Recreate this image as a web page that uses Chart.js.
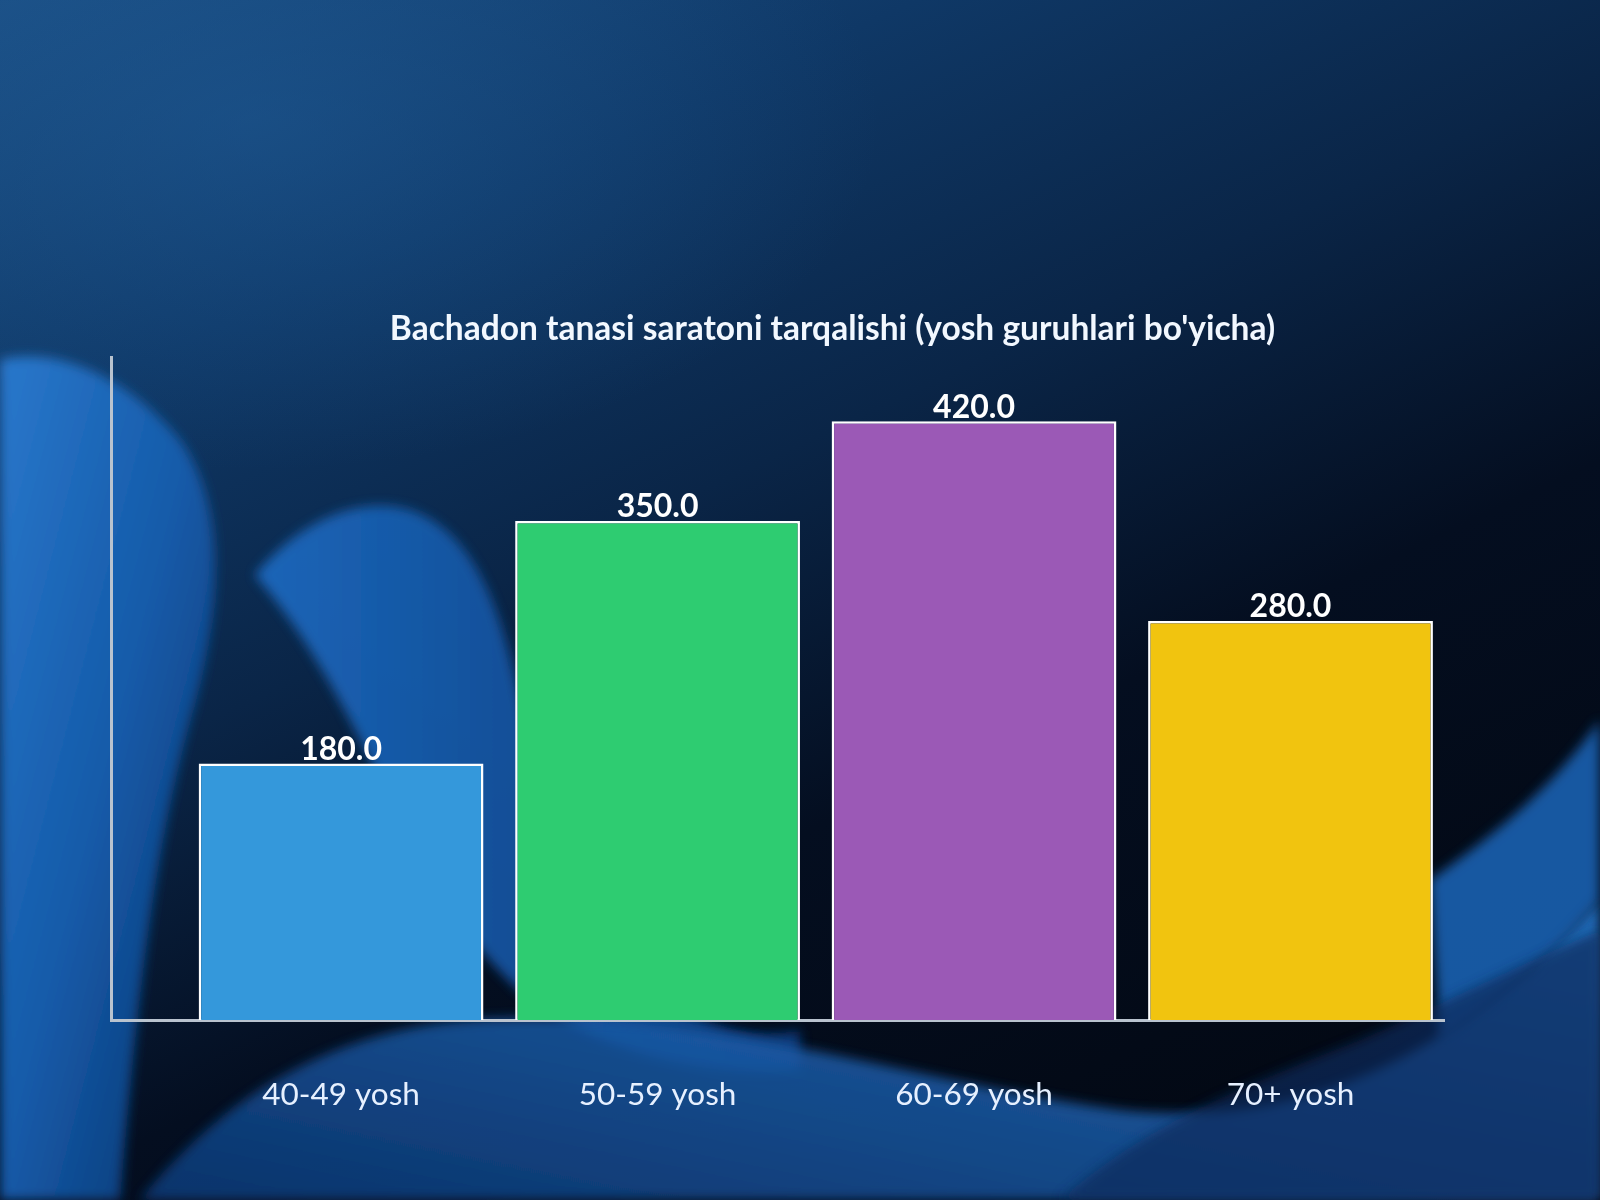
<!DOCTYPE html>
<html>
<head>
<meta charset="utf-8">
<script src="https://cdn.jsdelivr.net/npm/chart.js@4.4.1/dist/chart.umd.min.js"></script>
<style>
  html, body { margin: 0; padding: 0; width: 1600px; height: 1200px; overflow: hidden; }
  body {
    background:
      radial-gradient(ellipse 900px 500px at 250px 120px, rgba(30,90,150,0.5), rgba(30,90,150,0) 70%),
      linear-gradient(155deg, #1b4f84 0%, #0f3866 22%, #0a2547 42%, #040e20 62%, #02060e 100%);
    position: relative;
  }
  #bg { position: absolute; left: 0; top: 0; width: 1600px; height: 1200px; }
  #wrap { position: absolute; left: 0; top: 0; width: 1600px; height: 1200px; }
</style>
</head>
<body>
<svg id="bg" viewBox="0 0 1600 1200" xmlns="http://www.w3.org/2000/svg">
  <defs>
    <linearGradient id="g1" x1="0" y1="0" x2="1" y2="1">
      <stop offset="0" stop-color="#2a78cc"/>
      <stop offset="0.5" stop-color="#145aa8"/>
      <stop offset="1" stop-color="#0a2f66"/>
    </linearGradient>
    <linearGradient id="g2" x1="0" y1="0" x2="1" y2="0">
      <stop offset="0" stop-color="#1d6cc4"/>
      <stop offset="1" stop-color="#0b3d80"/>
    </linearGradient>
    <linearGradient id="g3" x1="0" y1="1" x2="1" y2="0">
      <stop offset="0" stop-color="#0c3a78"/>
      <stop offset="1" stop-color="#2a7fd8"/>
    </linearGradient>
    <filter id="blur" x="-10%" y="-10%" width="120%" height="120%"><feGaussianBlur stdDeviation="6"/></filter>
  </defs>
  <path d="M0,360 C60,345 130,380 180,440 C230,510 220,620 190,720 C160,830 140,960 120,1200 L0,1200 Z" fill="url(#g1)" filter="url(#blur)"/>
  <path d="M255,575 C300,520 360,495 410,510 C470,530 500,600 520,700 C540,800 560,900 640,980 C700,1030 760,1040 800,1030 L800,1070 C700,1080 600,1050 530,1000 C470,950 430,880 400,820 C360,740 320,650 255,575 Z" fill="url(#g2)" opacity="0.9" filter="url(#blur)"/>
  <path d="M140,1200 C220,1100 330,1030 470,1020 C700,1005 900,1080 1120,1110 C1300,1130 1450,1060 1600,900 L1600,1200 Z" fill="url(#g3)" opacity="0.85" filter="url(#blur)"/>
  <path d="M1430,880 C1500,830 1550,790 1600,720 L1600,900 C1550,960 1500,1000 1440,1040 Z" fill="#1d6cc4" opacity="0.8" filter="url(#blur)"/>
  <path d="M1060,1200 C1150,1120 1260,1080 1360,1040 C1450,1000 1530,960 1600,930 L1600,1200 Z" fill="#0a2a5c" opacity="0.7" filter="url(#blur)"/>
</svg>
<div id="wrap"><canvas id="c" width="1600" height="1200"></canvas></div>
<script>
const categories = ['40-49 yosh', '50-59 yosh', '60-69 yosh', '70+ yosh'];
const values = [180, 350, 420, 280];
const barColors = ['#3498db', '#2ecc71', '#9b59b6', '#f1c40f'];
const chartTitle = "Bachadon tanasi saratoni tarqalishi (yosh guruhlari bo'yicha)";

const valueLabels = {
  id: 'valueLabels',
  afterDatasetsDraw(chart) {
    const ctx = chart.ctx;
    const meta = chart.getDatasetMeta(0);
    ctx.save();
    ctx.font = 'bold 32px Lato';
    ctx.fillStyle = '#ffffff';
    ctx.textAlign = 'center';
    ctx.textBaseline = 'middle';
    meta.data.forEach((bar, i) => {
      ctx.fillText(values[i].toFixed(1), bar.x, bar.y - 14);
    });
    ctx.restore();
  }
};

new Chart(document.getElementById('c'), {
  type: 'bar',
  data: {
    datasets: [{
      data: values.map((v, i) => ({ x: i, y: v })),
      backgroundColor: barColors,
      borderColor: '#ffffff',
      borderWidth: 2.5,
      barPercentage: 0.9,
      categoryPercentage: 1.0
    }]
  },
  options: {
    responsive: false,
    animation: false,
    devicePixelRatio: 1,
    layout: { padding: { left: 101, right: 36, top: 0, bottom: 0 } },
    plugins: {
      legend: { display: false },
      tooltip: { enabled: false },
      title: {
        display: true,
        text: chartTitle,
        color: '#f2f8ff',
        font: { family: 'Lato', size: 33.5, weight: 'bold' },
        padding: { top: 309, bottom: 8 }
      }
    },
    scales: {
      x: {
        type: 'linear',
        offset: false,
        min: -0.727,
        max: 3.485,
        grid: { display: false, drawTicks: false, offset: false },
        border: { display: true, color: '#b9c3cf', width: 3 },
        afterBuildTicks(s) { s.ticks = categories.map((c, i) => ({ value: i })); },
        afterFit(s) { s.height = 180; },
        ticks: {
          autoSkip: false,
          maxRotation: 0,
          padding: 56,
          color: '#e6f0ff',
          font: { family: 'Lato', size: 31.5 },
          callback: (v) => categories[v]
        }
      },
      y: {
        min: 0,
        max: 465,
        grid: { display: false },
        border: { display: true, color: '#b9c3cf', width: 3 },
        ticks: { display: false },
        afterFit(s) { s.width = 10; }
      },
      y2: {
        position: 'right',
        display: true,
        grid: { display: false },
        border: { display: false },
        ticks: { display: false },
        afterFit(s) { s.width = 120; }
      }
    }
  },
  plugins: [valueLabels]
});
</script>
</body>
</html>
